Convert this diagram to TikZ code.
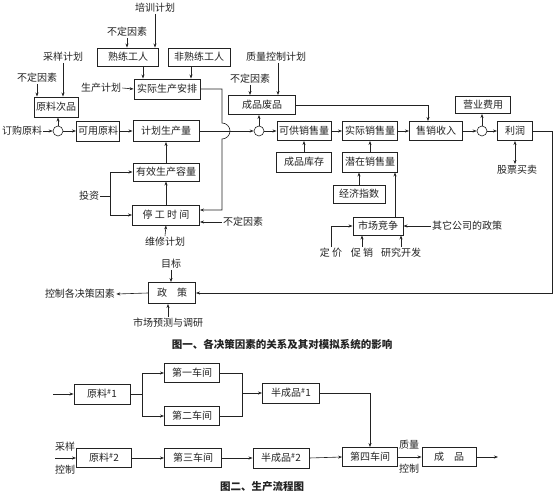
\documentclass[tikz,border=0pt]{standalone}
\usepackage{fontspec}
\setmainfont{Noto Sans CJK SC}
\usetikzlibrary{arrows.meta}
\definecolor{inkgray}{HTML}{222222}

\tikzset{
  blk/.style={draw=inkgray, line width=0.9pt, minimum height=19pt, inner sep=1pt,
    font=\fontsize{10}{11}\selectfont},
  lbl/.style={inner sep=1pt, font=\fontsize{10}{11}\selectfont},
  sumpt/.style={draw=inkgray, circle, minimum size=10pt, inner sep=0pt},
  capt/.style={inner sep=1pt, font=\fontsize{10.5}{12}\selectfont\bfseries}
}

\begin{document}
\begin{tikzpicture}[x=1pt, y=1pt, >={Stealth[length=4pt,width=3pt]}, line width=0.6pt, draw=inkgray, text=inkgray]
  \useasboundingbox (0,0) rectangle (557,-494);

  % workers and production schedule
  \node[lbl] (train) at (155,-8) {培训计划};
  \node[lbl] (uncA) at (127,-32) {不定因素};
  \node[blk, minimum width=61pt, minimum height=18pt] (skilled) at (128,-57) {熟练工人};
  \node[blk, minimum width=62pt, minimum height=18pt] (unskilled) at (199,-57) {非熟练工人};
  \node[blk, minimum width=66pt, minimum height=20pt] (plan) at (167,-89) {实际生产安排};
  \node[lbl] (prodplan) at (101,-88) {生产计划};
  \draw[->] (train.south) -- (train.south |- skilled.north);
  \draw[->] (uncA.south) -- (uncA.south |- skilled.north);
  \draw[->] ([xshift=-24pt]plan.north |- skilled.south) -- ([xshift=-24pt]plan.north);
  \draw[->] ([xshift=24pt]plan.north |- unskilled.south) -- ([xshift=24pt]plan.north);
  \draw[->] (prodplan.east) -- (plan.west);

  % raw material
  \node[lbl] (samp) at (63,-57) {采样计划};
  \node[lbl] (uncB) at (37,-78) {不定因素};
  \node[blk, minimum width=44pt, minimum height=20pt] (defect) at (56,-107) {原料次品};
  \draw[->] (samp.south) -- (samp.south |- defect.north);
  \draw[->] (uncB.south) -- (uncB.south |- defect.north);

  % main row
  \node[lbl] (order) at (22,-131) {订购原料};
  \node[sumpt] (c1) at (58,-131) {};
  \node[blk, minimum width=43pt, minimum height=20pt] (avail) at (98,-131) {可用原料};
  \node[blk, minimum width=66pt, minimum height=21pt] (plnqty) at (166,-131) {计划生产量};
  \node[sumpt] (c2) at (259,-131) {};
  \node[blk, minimum width=54pt] (avsale) at (304,-131) {可供销售量};
  \node[blk, minimum width=55pt] (actsale) at (370,-131) {实际销售量};
  \node[blk, minimum width=53pt] (rev) at (436,-131) {售销收入};
  \node[sumpt] (c3) at (482,-131) {};
  \node[blk, minimum width=35pt] (profit) at (515,-131) {利润};
  \draw[->] (order.east) -- (c1.west);
  \draw[->] (c1.east) -- (avail.west);
  \draw[->] (c1.north) -- (c1.north |- defect.south);
  \draw[->] (avail.east) -- (plnqty.west);
  \draw[->] (plnqty.east) -- (c2.west);
  \draw[->] (c2.east) -- (avsale.west);
  \draw[->] (avsale.east) -- (actsale.west);
  \draw[->] (actsale.east) -- (rev.west);
  \draw[->] (rev.east) -- (c3.west);
  \draw[->] (c3.east) -- (profit.west);

  % finished goods and expenses
  \node[lbl] (qcplan) at (276,-57) {质量控制计划};
  \node[lbl] (uncC) at (250,-79) {不定因素};
  \node[blk, minimum width=67pt] (scrap) at (262,-105) {成品废品};
  \node[blk, minimum width=55pt, minimum height=17pt] (opex) at (483,-105) {营业费用};
  \node[lbl] (stock) at (517,-170) {股票买卖};
  \draw[->] ([xshift=2pt]qcplan.south) -- ([xshift=2pt]qcplan.south |- scrap.north);
  \draw[->] (uncC.south) -- (uncC.south |- scrap.north);
  \draw[->] (c2.north) -- (c2.north |- scrap.south);
  \draw[->] (scrap.east) -| ([xshift=-8pt]rev.north);
  \draw[->] (c3.north) -- (c3.north |- opex.south);
  \draw[<->] (profit.south) -- (profit.south |- stock.north);

  % sales side
  \node[blk, minimum width=55pt, minimum height=20pt] (inv) at (304,-162) {成品库存};
  \node[blk, minimum width=55pt, minimum height=20pt] (pot) at (370,-162) {潜在销售量};
  \node[blk, minimum width=52pt, minimum height=18pt] (econ) at (359,-194) {经济指数};
  \node[blk, minimum width=50pt, minimum height=18pt] (mkt) at (378,-226) {市场竞争};
  \node[lbl] (other) at (467,-226) {其它公司的政策};
  \node[lbl] (price) at (331,-253) {定\ 价};
  \node[lbl] (promo) at (362,-253) {促\ 销};
  \node[lbl] (rd) at (401,-253) {研究开发};
  \draw[->] (inv.north) -- (avsale.south);
  \draw[->] (pot.north) -- (actsale.south);
  \draw[->] (econ.north) -- (econ.north |- pot.south);
  \draw[->] ([xshift=17pt]mkt.north) -- ([xshift=17pt]mkt.north |- pot.south);
  \draw[->] (other.west) -- (mkt.east);
  \draw[->] (price.north) |- (mkt.west);
  \draw[->] (promo.north) -- (promo.north |- mkt.south);
  \draw[->] (rd.north) -- (rd.north |- mkt.south);

  % capacity and downtime
  \node[blk, minimum width=66pt, minimum height=18pt] (cap) at (166,-172) {有效生产容量};
  \node[blk, minimum width=67pt, minimum height=20pt] (down) at (166,-215) {停\ 工\ 时\ 间};
  \node[lbl] (invest) at (89,-196) {投资};
  \node[lbl] (uncD) at (243,-222) {不定因素};
  \node[lbl] (maint) at (165,-242) {维修计划};
  \coordinate (br) at (110,-196);
  \coordinate (hj) at (222,-131);
  \draw[->] (cap.north) -- (plnqty.south);
  \draw[->] (down.north) -- (cap.south);
  \draw[->] (invest.east) -- (br) |- (cap.west);
  \draw[->] (br) |- (down.west);
  \draw[->] (uncD.west) -- (uncD.west -| down.east);
  \draw[->] (maint.north) -- (down.south);
  \draw[->] (plan.east) -| ([yshift=8pt]hj) arc[start angle=90, end angle=-90, radius=8pt] |- ([yshift=5pt]down.east);

  % policy
  \node[lbl] (goal) at (171,-264) {目标};
  \node[blk, minimum width=47pt, minimum height=21pt] (policy) at (172,-293) {政\quad 策};
  \node[lbl] (ctrl) at (80,-294) {控制各决策因素};
  \node[lbl] (fore) at (168,-323) {市场预测与调研};
  \coordinate (fb) at (552,-131);
  \draw[->] (goal.south) -- (goal.south |- policy.north);
  \draw[->] (policy.west) -- (ctrl.east);
  \draw[->] (fore.north) -- (fore.north |- policy.south);
  \draw[->] (profit.east) -- (fb) |- (policy.east);
  \node[capt] (cap1) at (282,-344) {图一、各决策因素的关系及其对模拟系统的影响};

  % production flow
  \coordinate (in1) at (53,-394);
  \coordinate (sp1) at (142,-394);
  \coordinate (mg) at (242,-393);
  \coordinate (in2) at (55,-458);
  \coordinate (out) at (498,-457);
  \node[blk, minimum width=56pt, minimum height=20pt] (r1) at (102,-394) {原料\textsuperscript{\#}1};
  \node[blk, minimum width=55pt] (w1) at (192,-373) {第一车间};
  \node[blk, minimum width=55pt] (w2) at (192,-416) {第二车间};
  \node[blk, minimum width=57pt, minimum height=20pt] (s1) at (291,-393) {半成品\textsuperscript{\#}1};
  \node[blk, minimum width=55pt] (r2) at (104,-458) {原料\textsuperscript{\#}2};
  \node[blk, minimum width=57pt] (w3) at (193,-458) {第三车间};
  \node[blk, minimum width=56pt, minimum height=20pt] (s2) at (281,-458) {半成品\textsuperscript{\#}2};
  \node[blk, minimum width=55pt] (w4) at (370,-457) {第四车间};
  \node[blk, minimum width=54pt] (prod) at (449,-457) {成\quad 品};
  \node[lbl] (smp) at (65,-447) {采样};
  \node[lbl] (ctl) at (65,-470) {控制};
  \node[lbl] (qual) at (409,-445) {质量};
  \node[lbl] (qctl) at (409,-469) {控制};
  \draw[->] (in1) -- (r1.west);
  \draw[->] (r1.east) -- (sp1) |- (w1.west);
  \draw[->] (sp1) |- (w2.west);
  \draw (w1.east) -| (mg);
  \draw (w2.east) -| (mg);
  \draw[->] (mg) -- (s1.west);
  \draw[->] (s1.east) -| (w4.north);
  \draw[->] (in2) -- (r2.west);
  \draw[->] (r2.east) -- (w3.west);
  \draw[->] (w3.east) -- (s2.west);
  \draw[->] (s2.east) -- (w4.west);
  \draw[->] (w4.east) -- (prod.west);
  \draw[->] (prod.east) -- (out);
  \node[capt] (cap2) at (262,-487) {图二、生产流程图};
\end{tikzpicture}
\end{document}
